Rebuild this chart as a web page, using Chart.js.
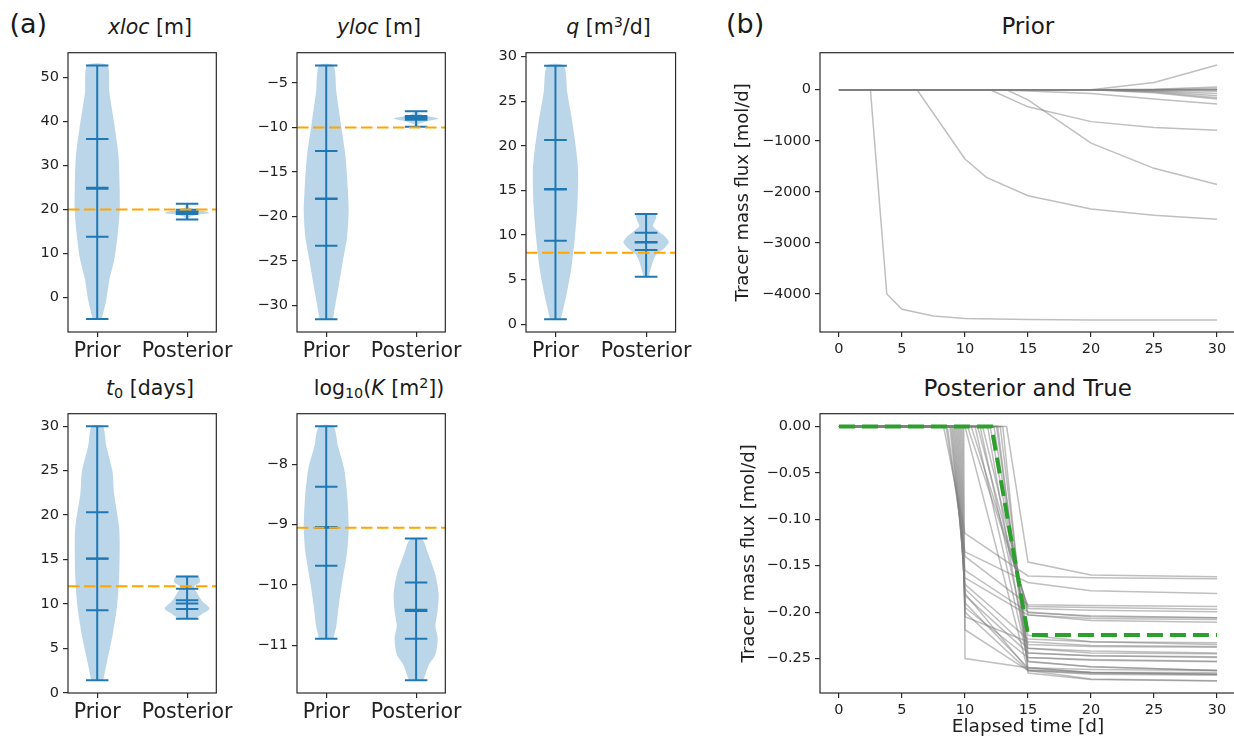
<!DOCTYPE html>
<html>
<head>
<meta charset="utf-8">
<script src="https://cdn.jsdelivr.net/npm/chart.js@4.4.1/dist/chart.umd.min.js"></script>
<style>
  html, body { margin: 0; padding: 0; background: #fff; overflow: hidden; width: 1234px; height: 742px; }
  #fig { position: relative; width: 1234px; height: 742px; overflow: hidden; }
  canvas { position: absolute; }
  .lbl { position: absolute; font-family: 'DejaVu Sans'; line-height: 1; color: #1a1a1a; white-space: nowrap; }
  .ttl { position: absolute; width: 400px; text-align: center; font-family: 'DejaVu Sans'; line-height: 1; color: #1a1a1a; white-space: nowrap; }
  .ttl sup, .ttl sub { font-size: 0.7em; line-height: 0; }
  .ttl sup { vertical-align: 0.5em; }
  .ttl sub { vertical-align: -0.22em; }
</style>
</head>
<body>
<div id="fig">
  <div class="lbl" style="left:9.5px;top:9.9px;font-size:27px">(a)</div>
  <div class="lbl" style="left:726px;top:9.9px;font-size:27px">(b)</div>

  <div class="ttl" style="left:-50px;top:16.7px;font-size:20.5px"><i>xloc</i> [m]</div>
  <div class="ttl" style="left:179px;top:16.7px;font-size:20.5px"><i>yloc</i> [m]</div>
  <div class="ttl" style="left:408.5px;top:16.7px;font-size:20.5px"><i>q</i> [m<sup>3</sup>/d]</div>
  <div class="ttl" style="left:-50px;top:377.7px;font-size:20.5px"><i>t</i><sub>0</sub> [days]</div>
  <div class="ttl" style="left:179px;top:377.7px;font-size:20.5px">log<sub>10</sub>(<i>K</i> [m<sup>2</sup>])</div>
  <div class="ttl" style="left:827.8px;top:14.5px;font-size:23px">Prior</div>
  <div class="ttl" style="left:827.8px;top:376.5px;font-size:23px">Posterior and True</div>
</div>

<script>
// ---- violin data: levels along the parameter axis, relative KDE width, and
// ---- summary lines [min, q25, median, mean, q75, max]
const violinCats = ['Prior', 'Posterior'];

const xlocPriorLevels = [-4.9, -0.9, 4.2, 8.6, 13.8, 19.6, 24.7, 32, 39.4, 46.7, 52.7];
const xlocPriorWidths = [0.2, 0.39, 0.55, 0.76, 0.9, 1.0, 1.0, 0.95, 0.76, 0.54, 0.45];
const xlocPriorStats = [-4.9, 13.8, 24.7, 24.9, 36.0, 52.7];
const xlocPostLevels = [17.7, 18.3, 18.8, 19.2, 19.5, 19.9, 20.4, 21.3];
const xlocPostWidths = [0.05, 0.12, 0.45, 1.0, 0.85, 0.35, 0.1, 0.04];
const xlocPostStats = [17.7, 18.95, 19.4, 19.5, 19.95, 21.3];
const xlocTrue = 20;
const xlocTicks = [0, 10, 20, 30, 40, 50];

const ylocPriorLevels = [-31.56, -29.9, -27.75, -25.2, -22.3, -19.4, -16.9, -13.3, -9.6, -6.0, -3.04];
const ylocPriorWidths = [0.3, 0.41, 0.56, 0.73, 0.93, 1.0, 0.96, 0.86, 0.65, 0.45, 0.32];
const ylocPriorStats = [-31.56, -23.3, -18.05, -18.0, -12.65, -3.04];
const ylocPostLevels = [-9.93, -9.6, -9.3, -9.0, -8.7, -8.4, -8.19];
const ylocPostWidths = [0.04, 0.12, 0.5, 1.0, 0.45, 0.12, 0.04];
const ylocPostStats = [-9.93, -9.15, -8.95, -8.9, -8.73, -8.19];
const ylocTrue = -10;
const ylocTicks = [-30, -25, -20, -15, -10, -5];

const qPriorLevels = [0.54, 3.25, 6.1, 9.8, 13.4, 17.0, 18.8, 22.4, 26.0, 28.98];
const qPriorWidths = [0.24, 0.48, 0.69, 0.86, 0.97, 1.0, 0.95, 0.76, 0.52, 0.37];
const qPriorStats = [0.54, 9.36, 15.1, 15.15, 20.64, 28.98];
const qPostLevels = [5.31, 6.0, 7.0, 7.8, 8.5, 9.2, 9.9, 10.5, 11.0, 11.5, 12.0, 12.36];
const qPostWidths = [0.12, 0.18, 0.3, 0.45, 0.8, 1.0, 0.8, 0.5, 0.3, 0.38, 0.45, 0.42];
const qPostStats = [5.31, 8.31, 9.15, 9.2, 10.26, 12.36];
const qTrue = 8;
const qTicks = [0, 5, 10, 15, 20, 25, 30];

const t0PriorLevels = [1.41, 3.55, 6.45, 9.7, 13.3, 17.0, 18.8, 22.4, 24.9, 27.8, 30.0];
const t0PriorWidths = [0.27, 0.44, 0.68, 0.88, 0.98, 1.0, 0.97, 0.75, 0.68, 0.4, 0.25];
const t0PriorStats = [1.41, 9.28, 15.08, 15.12, 20.33, 30.0];
const t0PostLevels = [8.33, 9.0, 9.5, 10.4, 11.2, 11.9, 12.5, 13.08];
const t0PostWidths = [0.38, 0.75, 1.0, 0.65, 0.45, 0.3, 0.58, 0.5];
const t0PostStats = [8.33, 9.42, 10.04, 10.43, 11.7, 13.08];
const t0True = 12;
const t0Ticks = [0, 5, 10, 15, 20, 25, 30];

const logkPriorLevels = [-10.89, -10.68, -10.36, -9.93, -9.45, -9.03, -8.49, -8.06, -7.69, -7.37];
const logkPriorWidths = [0.32, 0.45, 0.55, 0.72, 0.93, 1.0, 0.93, 0.79, 0.52, 0.32];
const logkPriorStats = [-10.89, -9.68, -9.04, -9.05, -8.37, -7.37];
const logkPostLevels = [-11.58, -11.32, -11.15, -10.89, -10.68, -10.42, -10.15, -9.83, -9.5, -9.24];
const logkPostWidths = [0.32, 0.57, 0.86, 0.96, 0.86, 0.96, 1.0, 0.86, 0.55, 0.27];
const logkPostStats = [-11.58, -10.89, -10.41, -10.43, -9.96, -9.23];
const logkTrue = -9.05;
const logkTicks = [-11, -10, -9, -8];

// ---- prior model runs: [time (d), tracer mass flux (mol/d)]
const priorRunFast = [[0, 0], [2.5, 0], [3.8, -4000], [5, -4300], [7.5, -4430], [10, -4480], [15, -4500], [20, -4510], [30, -4510]];
const priorRunMid = [[0, 0], [6.2, 0], [10, -1356], [11.7, -1716], [15, -2076], [20, -2334], [25, -2460], [30, -2536]];
const priorRunLate = [[0, 0], [13.3, 0], [15, -200], [20, -1045], [25, -1540], [30, -1855]];
const priorRunShallow = [[0, 0], [12, 0], [15, -335], [20, -625], [25, -740], [30, -795]];
const priorRunRise = [[0, 0], [20, 0], [25, 140], [30, 485]];
const priorRunSlow = [[0, 0], [12.5, 0], [20, -76], [25, -180], [30, -278]];
const priorRunsSmall = [
  [[0, 0], [20, 0], [25, -60], [30, -184]],
  [[0, 0], [20, 0], [25, -45], [30, -157]],
  [[0, 0], [20, 0], [25, -30], [30, -120]],
  [[0, 0], [20, 0], [25, -20], [30, -76]],
  [[0, 0], [20, 0], [25, -8], [30, -32]],
  [[0, 0], [20, 0], [25, 10], [30, 51]],
  [[0, 0], [20, 0], [25, 5], [30, 25]],
  [[0, 0], [30, 0]],
  [[0, 0], [30, 0]],
  [[0, 0], [30, 0]]
];
const priorTicksY = [-4000, -3000, -2000, -1000, 0];

// ---- posterior model runs: onset of breakthrough and flux at 10, 15, 20, 30 d
const postOnset = [8.3, 8.5, 8.6, 8.8, 8.9, 9.0, 9.1, 9.2, 9.3, 9.4, 9.5, 9.6, 9.7, 9.8, 9.9,
  13.3, 10.2, 10.5, 11.0, 11.4, 12.0, 12.3, 12.5, 12.8, 10.8, 11.8, 12.6, 10.0, 13.0, 11.2];
const postAt10 = [-0.115, -0.135, -0.14, -0.155, -0.163, -0.17, -0.175, -0.18, -0.182, -0.19, -0.195, -0.2, -0.205, -0.219, -0.25,
  null, null, null, null, null, null, null, null, null, null, null, null, null, null, null];
const postAt15 = [-0.161, -0.168, -0.192, -0.2, -0.203, -0.229, -0.239, -0.262, -0.244, -0.26, -0.249, -0.263, -0.232, -0.263, -0.26,
  -0.146, -0.194, -0.196, -0.203, -0.2006, -0.225, -0.235, -0.244, -0.249, -0.253, -0.2535, -0.26, -0.263, -0.2657, -0.239];
const postAt20 = [-0.163, -0.177, -0.193, -0.205, -0.207, -0.232, -0.244, -0.265, -0.247, -0.265, -0.251, -0.267, -0.236, -0.272, -0.262,
  -0.16, -0.195, -0.198, -0.209, -0.204, -0.232, -0.237, -0.247, -0.252, -0.259, -0.259, -0.265, -0.266, -0.2726, -0.242];
const postAt30 = [-0.164, -0.18, -0.194, -0.206, -0.208, -0.233, -0.245, -0.265, -0.249, -0.267, -0.253, -0.268, -0.237, -0.274, -0.263,
  -0.162, -0.197, -0.1996, -0.211, -0.206, -0.235, -0.238, -0.248, -0.2535, -0.2629, -0.263, -0.267, -0.267, -0.2743, -0.244];
const trueTime = [0, 12.1, 15, 20, 25, 30];
const trueFlux = [0, 0, -0.2246, -0.2246, -0.2246, -0.2246];
const postTicksY = [-0.25, -0.2, -0.15, -0.1, -0.05, 0];
const timeTicks = [0, 5, 10, 15, 20, 25, 30];

// ---- styling
Chart.defaults.font.family = "'DejaVu Sans', sans-serif";
Chart.defaults.color = '#222';
Chart.defaults.animation = false;
Chart.defaults.elements.point.radius = 0;
Chart.defaults.elements.line.tension = 0;
Chart.defaults.plugins.legend.display = false;
Chart.defaults.plugins.tooltip.enabled = false;

const blue = '#1f77b4';
const violinFill = 'rgba(31,119,180,0.3)';
const runColor = 'rgba(128,128,128,0.5)';
const spine = '#2b2b2b';
const violinX = [0.675, 2.325];

const fmt = d => v => (v < -1e-12 ? '\u2212' : '') + Math.abs(v).toFixed(d);

// box around the plotting area, like matplotlib spines
const frame = {
  id: 'frame',
  afterDatasetsDraw(chart) {
    const {ctx, chartArea: a} = chart;
    ctx.save();
    ctx.strokeStyle = spine;
    ctx.lineWidth = 1.2;
    ctx.strokeRect(a.left, a.top, a.right - a.left, a.bottom - a.top);
    ctx.restore();
  }
};

function place(box, padL, padT, padR, padB) {
  const c = document.createElement('canvas');
  const w = box[2] - box[0] + padL + padR;
  const h = box[3] - box[1] + padT + padB;
  c.width = w;
  c.height = h;
  c.style.left = (box[0] - padL) + 'px';
  c.style.top = (box[1] - padT) + 'px';
  c.style.width = w + 'px';
  c.style.height = h + 'px';
  document.getElementById('fig').appendChild(c);
  return c;
}

function axis(min, max, ticks, label, fontSize, padding, fit, extra) {
  return Object.assign({
    type: 'linear',
    min: min,
    max: max,
    afterBuildTicks: s => { s.ticks = ticks.map(v => ({value: v})); },
    afterFit: fit,
    border: {display: false},
    grid: {drawOnChartArea: false, drawTicks: true, tickLength: 5, color: spine, lineWidth: 1.2},
    ticks: {callback: label, autoSkip: false, maxRotation: 0, minRotation: 0, padding: padding, font: {size: fontSize}, color: '#222'}
  }, extra || {});
}

function violinShape(pos, levels, widths) {
  const right = levels.map((y, i) => ({x: pos + 0.25 * widths[i], y: y}));
  const left = levels.map((y, i) => ({x: pos - 0.25 * widths[i], y: y})).reverse();
  return right.concat(left);
}

function violinSets(pos, levels, widths, stats) {
  const sets = [{
    data: violinShape(pos, levels, widths),
    fill: 'shape', backgroundColor: violinFill,
    borderColor: 'transparent', borderWidth: 0, tension: 0.25, order: 3
  }];
  // central bar from min to max, then min/q25/median/mean/q75/max caps
  sets.push({data: [{x: pos, y: stats[0]}, {x: pos, y: stats[5]}], borderColor: blue, borderWidth: 2, fill: false, order: 1});
  for (const v of stats) {
    sets.push({data: [{x: pos - 0.125, y: v}, {x: pos + 0.125, y: v}], borderColor: blue, borderWidth: 2, fill: false, order: 1});
  }
  return sets;
}

function violinPanel(box, yMin, yMax, yTicks, prior, post, truth) {
  const padL = 66, padT = 3, padR = 3, padB = 44;
  const canvas = place(box, padL, padT, padR, padB);
  const datasets = [
    {data: [{x: violinX[0], y: truth}, {x: violinX[1], y: truth}], borderColor: 'orange', borderWidth: 2, borderDash: [11.5, 4.5], fill: false, order: 0},
    ...violinSets(1, prior[0], prior[1], prior[2]),
    ...violinSets(2, post[0], post[1], post[2])
  ];
  new Chart(canvas, {
    type: 'line',
    data: {datasets: datasets},
    options: {
      responsive: false,
      devicePixelRatio: 1,
      layout: {autoPadding: false, padding: {left: 0, top: padT, right: padR, bottom: 0}},
      scales: {
        x: axis(violinX[0], violinX[1], [1, 2], v => violinCats[Math.round(v) - 1], 20.5, 2, s => { s.height = padB; }),
        y: axis(yMin, yMax, yTicks, fmt(0), 14.5, 4, s => { s.width = padL; })
      }
    },
    plugins: [frame]
  });
}

violinPanel([68, 43, 232, 332], -7.84, 55.6, xlocTicks,
  [xlocPriorLevels, xlocPriorWidths, xlocPriorStats], [xlocPostLevels, xlocPostWidths, xlocPostStats], xlocTrue);
violinPanel([297, 43, 461, 332], -33.0, -1.6, ylocTicks,
  [ylocPriorLevels, ylocPriorWidths, ylocPriorStats], [ylocPostLevels, ylocPostWidths, ylocPostStats], ylocTrue);
violinPanel([526, 43, 691, 332], -0.88, 30.43, qTicks,
  [qPriorLevels, qPriorWidths, qPriorStats], [qPostLevels, qPostWidths, qPostStats], qTrue);
violinPanel([68, 404, 232, 693], -0.02, 31.41, t0Ticks,
  [t0PriorLevels, t0PriorWidths, t0PriorStats], [t0PostLevels, t0PostWidths, t0PostStats], t0True);
violinPanel([297, 404, 461, 693], -11.79, -7.16, logkTicks,
  [logkPriorLevels, logkPriorWidths, logkPriorStats], [logkPostLevels, logkPostWidths, logkPostStats], logkTrue);

// ---- (b) flux time series
const toPoints = run => run.map(p => ({x: p[0], y: p[1]}));
const runSet = pts => ({data: pts, borderColor: runColor, borderWidth: 1.5, fill: false, order: 1});
const yTitle = {display: true, text: 'Tracer mass flux [mol/d]', font: {size: 18}, padding: 0, color: '#222'};

function fluxPanel(box, padL, padB, yMin, yMax, yTicks, yFmt, datasets, xTitle) {
  const padT = 3, padR = 3;
  const canvas = place(box, padL, padT, padR, padB);
  new Chart(canvas, {
    type: 'line',
    data: {datasets: datasets},
    options: {
      responsive: false,
      devicePixelRatio: 1,
      layout: {autoPadding: false, padding: {left: 0, top: padT, right: padR, bottom: 0}},
      scales: {
        x: axis(-1.5, 31.5, timeTicks, fmt(0), 14.5, 4, s => { s.height = padB; },
          xTitle ? {title: {display: true, text: xTitle, font: {size: 18.5}, padding: 0, color: '#222'}} : {}),
        y: axis(yMin, yMax, yTicks, yFmt, 14.5, 4, s => { s.width = padL; }, {title: yTitle})
      }
    },
    plugins: [frame]
  });
}

const priorSets = [priorRunFast, priorRunMid, priorRunLate, priorRunShallow, priorRunRise, priorRunSlow, ...priorRunsSmall]
  .map(r => runSet(toPoints(r)));
fluxPanel([820, 43, 1236, 332], 87, 30, -4745, 725, priorTicksY, fmt(0), priorSets, null);

const postSets = postOnset.map((t, i) => {
  const pts = [{x: 0, y: 0}, {x: t, y: 0}];
  if (postAt10[i] !== null) pts.push({x: 10, y: postAt10[i]});
  pts.push({x: 15, y: postAt15[i]}, {x: 20, y: postAt20[i]}, {x: 30, y: postAt30[i]});
  return runSet(pts);
});
postSets.unshift({
  data: trueTime.map((t, i) => ({x: t, y: trueFlux[i]})),
  borderColor: '#2ca02c', borderWidth: 4, borderDash: [16, 7], fill: false, order: 0
});
fluxPanel([820, 404, 1236, 693], 81, 45, -0.2872, 0.0139, postTicksY, fmt(2), postSets, 'Elapsed time [d]');
</script>
</body>
</html>
